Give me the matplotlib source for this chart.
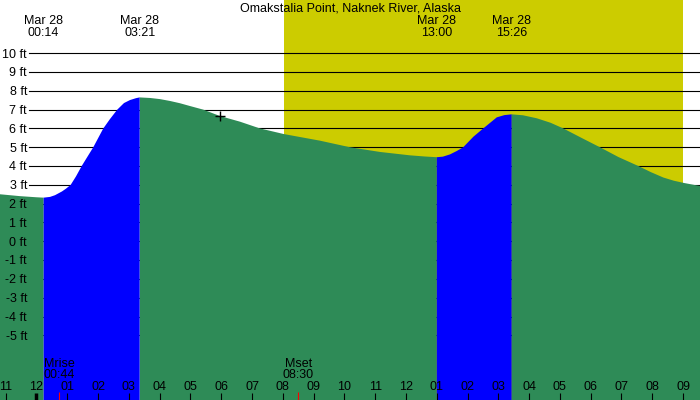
import matplotlib
matplotlib.use("Agg")
import matplotlib.pyplot as plt
import numpy as np

plt.rcParams['font.family'] = ['Liberation Sans', 'DejaVu Sans']

title = "Omakstalia Point, Naknek River, Alaska"

# tide curve (hours after midnight Mar 28, feet)
hours = [-1.185, -0.536, 0.0, 0.233, 0.44, 0.601, 0.828, 0.96, 1.111, 1.283,
         1.468, 1.656, 1.845, 2.007, 2.170, 2.387, 2.624, 2.842, 3.037,
         3.232, 3.35, 3.69, 4.011, 4.34, 4.661, 4.99, 5.417, 5.960, 6.609,
         7.259, 8.038, 9.207, 10.182, 11.156, 12.130, 12.6, 13.0, 13.2,
         13.43, 13.65, 13.86, 14.19, 14.51, 14.95, 15.2, 15.433, 15.8,
         16.25, 16.7, 17.11, 17.7, 18.30, 18.9, 19.55, 19.95, 20.36, 20.7,
         21.03, 21.55]
heights = [2.50, 2.40, 2.34, 2.32, 2.36, 2.45, 2.65, 2.80, 3.0, 3.45,
           4.0, 4.5, 5.0, 5.5, 6.0, 6.5, 7.0, 7.35, 7.51,
           7.61, 7.65, 7.62, 7.56, 7.46, 7.34, 7.19, 7.0, 6.66, 6.36,
           6.0, 5.70, 5.35, 5.0, 4.75, 4.57, 4.51, 4.47, 4.50,
           4.62, 4.80, 5.0, 5.56, 6.0, 6.59, 6.71, 6.75, 6.70,
           6.54, 6.30, 6.0, 5.50, 5.0, 4.48, 4.0, 3.68, 3.39, 3.22,
           3.10, 2.94]

# high / low events
event_hours = [0.233, 3.35, 13.0, 15.433]
event_labels = ["00:14", "03:21", "13:00", "15:26"]
event_date = "Mar 28"
flood_periods = [(0.233, 3.35), (13.0, 15.433)]

sunrise, sunset = 8.04, 21.0
moon_hours = [0.733, 8.5]
moon_names = ["Mrise", "Mset"]
moon_labels = ["00:44", "08:30"]

now_hour, now_height = 5.96, 6.66

ft_levels = list(range(-5, 11))
hour_ticks = list(range(-1, 22))

gray = "#BEBEBE"
yellow = "#CCCC00"
green = "#2E8B57"
blue = "#0000FF"

W, H = 700, 400
fig = plt.figure(figsize=(7, 4), dpi=100)
ax = fig.add_axes([0, 0, 1, 1])
ax.set_facecolor(gray)
x0, x1 = -1.185, 21.55
y0, y1 = -8.44, 12.83
ax.set_xlim(x0, x1)
ax.set_ylim(y0, y1)
ax.axis('off')
ax.patch.set_visible(True)

px_per_ft = H / (y1 - y0)

def ypix(p):
    # pixel row from top -> axes fraction
    return 1 - p / H

ax.axvspan(sunrise, sunset, color=yellow, lw=0, zorder=1)

for f in ft_levels:
    ax.axhline(f, xmin=29 / W, xmax=1, color='black', lw=0.8, zorder=2)

t = np.array(hours)
h = np.array(heights)
eps = 1e-6
flood = np.zeros(len(t), dtype=bool)
inside = np.zeros(len(t), dtype=bool)
for a, b in flood_periods:
    flood |= (t >= a - eps) & (t <= b + eps)
    inside |= (t > a + eps) & (t < b - eps)
ebb = ~inside
ax.fill_between(t, y0, h, where=ebb, color=green, lw=0, zorder=3)
ax.fill_between(t, y0, h, where=flood, color=blue, lw=0, zorder=3)

ax.plot([now_hour], [now_height], marker='+', color='black', ms=7, mew=1,
        zorder=5)

fs = 9
for f in ft_levels:
    ax.text(x0 + 27 / W * (x1 - x0), f - 4.4 / px_per_ft, "%d ft" % f,
            ha='right', va='baseline', fontsize=fs, zorder=6)

xt = ax.get_xaxis_transform()
ax.text(0.5, ypix(11.7), title, transform=ax.transAxes, ha='center',
        va='baseline', fontsize=fs, zorder=6)
for eh, lab in zip(event_hours, event_labels):
    ax.text(eh, ypix(24), event_date, transform=xt, ha='center',
            va='baseline', fontsize=fs, zorder=6)
    ax.text(eh, ypix(36), lab, transform=xt, ha='center',
            va='baseline', fontsize=fs, zorder=6)

for hr in hour_ticks:
    lab = "%02d" % (((hr - 1) % 12) + 1)
    ax.text(hr, ypix(390), lab, transform=xt, ha='center', va='baseline',
            fontsize=fs, zorder=6)
    lw = 2.5 if hr % 24 == 0 else 0.8
    ax.vlines(hr, 0, 7.5 / H, transform=xt, color='black', lw=lw, zorder=6)

for mh, name, lab in zip(moon_hours, moon_names, moon_labels):
    ax.text(mh, ypix(367), name, transform=xt, ha='center', va='baseline',
            fontsize=fs, zorder=6)
    ax.text(mh, ypix(378.5), lab, transform=xt, ha='center', va='baseline',
            fontsize=fs, zorder=6)
    ax.vlines(mh, 0, 8 / H, transform=xt, color='red', lw=0.8, zorder=6)

fig.savefig("out.png", dpi=100)
